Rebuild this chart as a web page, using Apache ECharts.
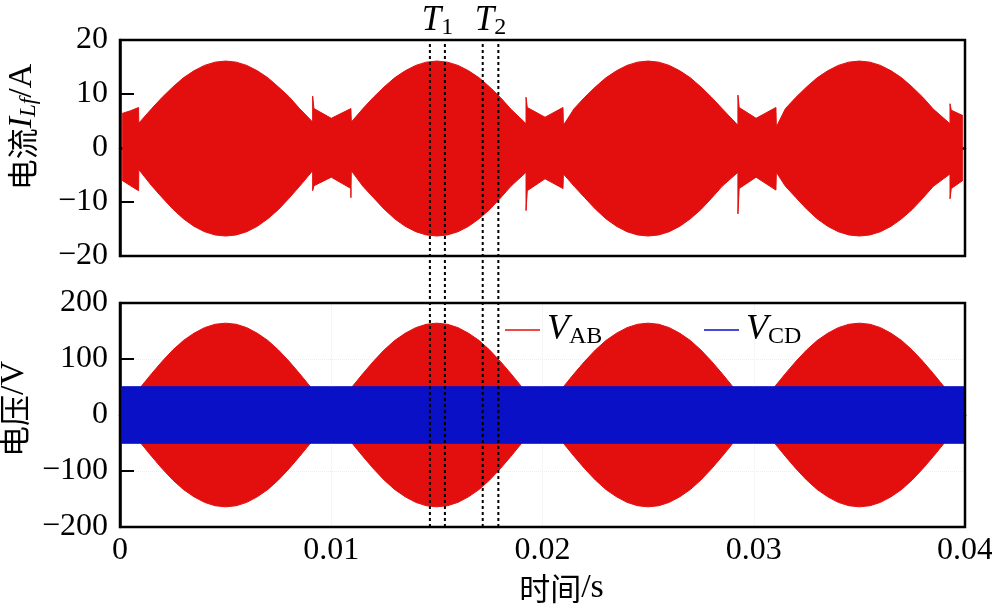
<!DOCTYPE html>
<html><head><meta charset="utf-8">
<script src="https://cdn.jsdelivr.net/npm/echarts@6/dist/echarts.min.js"></script>
<style>html,body{margin:0;padding:0;background:#fff}#c{width:992px;height:607px}</style>
</head><body><div id="c"></div>
<script>
// ---------- data ----------
// Top panel: envelope of the filter current I_Lf (A)
const timeI = [
  0.0001, 0.0005, 0.00088, 0.00088, 0.00089,
  0.0015, 0.002, 0.0025, 0.003, 0.0035, 0.004, 0.0045, 0.005, 0.0055, 0.006, 0.0065, 0.007, 0.0075, 0.008, 0.0085, 0.00912,
  0.00912, 0.00918, 0.0100, 0.01093, 0.01093, 0.01095,
  0.0115, 0.012, 0.0125, 0.013, 0.0135, 0.014, 0.0145, 0.015, 0.0155, 0.016, 0.0165, 0.017, 0.0175, 0.018, 0.0185, 0.01922,
  0.01922, 0.01928, 0.02012, 0.02097, 0.02097, 0.02099,
  0.0215, 0.022, 0.0225, 0.023, 0.0235, 0.024, 0.0245, 0.025, 0.0255, 0.026, 0.0265, 0.027, 0.0275, 0.028, 0.0285, 0.02925,
  0.02925, 0.02931, 0.03011, 0.03105, 0.03105, 0.03107,
  0.0315, 0.032, 0.0325, 0.033, 0.0335, 0.034, 0.0345, 0.035, 0.0355, 0.036, 0.0365, 0.037, 0.0375, 0.038, 0.0385, 0.03929,
  0.03929, 0.03935, 0.0399
];
const iUpper = [
  6.4, 6.9, 7.5, 7.7, 4.6,
  7.3, 9.4, 11.3, 13.0, 14.3, 15.3, 15.9, 16.1, 15.9, 15.3, 14.3, 13.0, 11.3, 9.5, 7.3, 4.8,
  9.6, 7.3, 5.5, 7.3, 7.6, 4.8,
  7.3, 9.4, 11.3, 13.0, 14.3, 15.3, 15.9, 16.1, 15.9, 15.3, 14.3, 13.0, 11.3, 9.4, 7.2, 4.5,
  9.4, 7.5, 5.7, 7.5, 7.7, 4.2,
  7.3, 9.4, 11.3, 13.0, 14.3, 15.3, 15.9, 16.1, 15.9, 15.3, 14.3, 13.0, 11.3, 9.4, 7.3, 4.2,
  9.8, 7.5, 5.5, 7.5, 7.6, 3.9,
  7.3, 9.4, 11.3, 13.0, 14.3, 15.3, 15.9, 16.1, 15.9, 15.3, 14.3, 13.0, 11.3, 9.4, 7.2, 4.5,
  8.2, 7.0, 6.0
];
const iLower = [
  -6.0, -7.0, -7.9, -8.2, -4.0,
  -7.0, -9.2, -11.3, -13.1, -14.5, -15.5, -16.1, -16.3, -16.1, -15.5, -14.5, -13.1, -11.4, -9.3, -7.1, -4.2,
  -7.9, -7.0, -5.4, -7.5, -9.2, -4.2,
  -7.1, -9.2, -11.3, -13.1, -14.5, -15.5, -16.1, -16.3, -16.1, -15.5, -14.5, -13.1, -11.4, -9.3, -7.1, -4.5,
  -11.6, -7.9, -5.7, -7.5, -7.8, -4.8,
  -7.1, -9.2, -11.3, -13.1, -14.5, -15.5, -16.1, -16.3, -16.1, -15.5, -14.5, -13.1, -11.4, -9.3, -7.1, -4.5,
  -12.2, -7.5, -5.4, -7.8, -8.0, -4.5,
  -7.1, -9.2, -11.3, -13.1, -14.5, -15.5, -16.1, -16.3, -16.1, -15.5, -14.5, -13.1, -11.4, -9.3, -7.1, -4.8,
  -9.4, -7.5, -6.0
];
// Bottom panel: envelope of V_AB (V)
const timeV = [
  0.0009, 0.001, 0.0015, 0.002, 0.0025, 0.003, 0.0035, 0.004, 0.0045, 0.005, 0.0055, 0.006, 0.0065, 0.007, 0.0075, 0.008, 0.0085, 0.009, 0.0091,
  0.0109, 0.011, 0.0115, 0.012, 0.0125, 0.013, 0.0135, 0.014, 0.0145, 0.015, 0.0155, 0.016, 0.0165, 0.017, 0.0175, 0.018, 0.0185, 0.019, 0.0191,
  0.0209, 0.021, 0.0215, 0.022, 0.0225, 0.023, 0.0235, 0.024, 0.0245, 0.025, 0.0255, 0.026, 0.0265, 0.027, 0.0275, 0.028, 0.0285, 0.029, 0.0291,
  0.0309, 0.031, 0.0315, 0.032, 0.0325, 0.033, 0.0335, 0.034, 0.0345, 0.035, 0.0355, 0.036, 0.0365, 0.037, 0.0375, 0.038, 0.0385, 0.039, 0.0391
];
const vabUpper = [
  46, 51, 74, 96, 116, 133, 146, 156, 162, 164, 162, 156, 146, 133, 116, 96, 74, 51, 46,
  46, 51, 74, 96, 116, 133, 146, 156, 162, 164, 162, 156, 146, 133, 116, 96, 74, 51, 46,
  46, 51, 74, 96, 116, 133, 146, 156, 162, 164, 162, 156, 146, 133, 116, 96, 74, 51, 46,
  46, 51, 74, 96, 116, 133, 146, 156, 162, 164, 162, 156, 146, 133, 116, 96, 74, 51, 46
];
const vabLower = [
  -46, -51, -74, -96, -116, -133, -146, -156, -162, -164, -162, -156, -146, -133, -116, -96, -74, -51, -46,
  -46, -51, -74, -96, -116, -133, -146, -156, -162, -164, -162, -156, -146, -133, -116, -96, -74, -51, -46,
  -46, -51, -74, -96, -116, -133, -146, -156, -162, -164, -162, -156, -146, -133, -116, -96, -74, -51, -46,
  -46, -51, -74, -96, -116, -133, -146, -156, -162, -164, -162, -156, -146, -133, -116, -96, -74, -51, -46
];
// Bottom panel: envelope of V_CD (V)
const timeCD = [0, 0.01, 0.02, 0.03, 0.04];
const vcdUpper = [50.5, 50.5, 50.5, 50.5, 50.5];
const vcdLower = [-50.5, -50.5, -50.5, -50.5, -50.5];
// axes
const xTicks = [0, 0.01, 0.02, 0.03, 0.04];
const iTicks = [-20, -10, 0, 10, 20];
const vTicks = [-200, -100, 0, 100, 200];
// T1 / T2 interval markers
const markTimes = [0.01467, 0.01538, 0.01717, 0.01791];
const markNames = ['1', '2'];

// ---------- styling ----------
const RED = '#e30e0e';
const BLUE = '#0a10c6';
const SERIF = 'Liberation Serif';
const CJK = 'Noto Sans CJK SC';

const pairs = (t, v) => t.map((x, i) => [x, v[i]]);
function band(name, idx, t, v, color, z) {
  return {
    type: 'line', name, xAxisIndex: idx, yAxisIndex: idx, data: pairs(t, v),
    symbol: 'none', silent: true, z,
    lineStyle: { color, width: 1 }, itemStyle: { color },
    areaStyle: { color, opacity: 1 }
  };
}
const nameRich = {
  c: { fontFamily: CJK, fontSize: 31, color: '#000' },
  i: { fontFamily: SERIF, fontStyle: 'italic', fontSize: 34, color: '#000' },
  s: { fontFamily: SERIF, fontStyle: 'italic', fontSize: 23, color: '#000', padding: [13, 0, 0, 0] },
  n: { fontFamily: SERIF, fontSize: 34, color: '#000' }
};
const legRich = {
  v: { fontFamily: SERIF, fontStyle: 'italic', fontSize: 36, color: '#000' },
  s: { fontFamily: SERIF, fontSize: 24, color: '#000', padding: [14, 0, 0, 0] }
};
const tickLbl = { fontFamily: SERIF, fontSize: 32, color: '#000' };
const minus = v => String(v).replace('-', '\u2212');

function xAx(gi, labels) {
  return {
    type: 'value', gridIndex: gi, min: xTicks[0], max: xTicks[xTicks.length - 1],
    interval: xTicks[1] - xTicks[0],
    axisLine: { lineStyle: { color: '#000', width: 2.5 } },
    axisTick: { inside: true, length: 14, lineStyle: { color: '#000', width: 2 } },
    axisLabel: Object.assign({ show: labels, margin: 8 }, tickLbl),
    splitLine: { show: labels, lineStyle: { color: '#ededed', type: 'dotted', width: 1 } }
  };
}
function yAx(gi, ticks, name, gap, grid, shift) {
  return {
    type: 'value', gridIndex: gi, min: ticks[0], max: ticks[ticks.length - 1],
    interval: ticks[1] - ticks[0],
    axisLine: { lineStyle: { color: '#000', width: 2.5 } },
    axisTick: { inside: true, length: 14, lineStyle: { color: '#000', width: 2 } },
    axisLabel: Object.assign({ margin: 12, formatter: minus }, tickLbl),
    splitLine: { show: grid, lineStyle: { color: '#ededed', type: 'dotted', width: 1 } },
    name, nameLocation: 'middle', nameGap: gap,
    nameTextStyle: { rich: nameRich, padding: [0, 0, 0, shift] }
  };
}

const series = [
  band('I_Lf', 0, timeI, iUpper, RED, 2),
  band('I_Lf', 0, timeI, iLower, RED, 2),
  band('V_AB', 1, timeV, vabUpper, RED, 2),
  band('V_AB', 1, timeV, vabLower, RED, 2),
  band('V_CD', 1, timeCD, vcdUpper, BLUE, 3),
  band('V_CD', 1, timeCD, vcdLower, BLUE, 3)
];
markTimes.forEach(t => series.push({
  type: 'line', xAxisIndex: 2, yAxisIndex: 2, data: [[t, 0], [t, 1]], symbol: 'none', silent: true, z: 6,
  lineStyle: { color: '#000', width: 2, type: [3, 3] }
}));
series.push({
  type: 'scatter', xAxisIndex: 2, yAxisIndex: 2, symbolSize: 0, silent: true, z: 6,
  itemStyle: { opacity: 1 },
  data: markNames.map((n, k) => ({ value: [(markTimes[2 * k] + markTimes[2 * k + 1]) / 2, 1], n })),
  label: {
    show: true, position: 'top', distance: 0, color: '#000', opacity: 1,
    formatter: p => '{t|T}{s|' + p.data.n + '}',
    rich: {
      t: { fontFamily: SERIF, fontStyle: 'italic', fontSize: 35, color: '#000' },
      s: { fontFamily: SERIF, fontSize: 24, color: '#000', padding: [14, 0, 0, 0] }
    }
  }
});

function leg(name, sub, left, color) {
  return {
    data: [{ name, icon: 'rect', itemStyle: { color } }],
    left, top: 307, itemWidth: 35, itemHeight: 1.5, selectedMode: false,
    formatter: () => '{v|V}{s|' + sub + '}',
    textStyle: { rich: legRich, padding: [0, 0, 0, 2] }
  };
}

const option = {
  animation: false,
  backgroundColor: '#fff',
  grid: [
    { left: 120, top: 40, width: 845, height: 216, show: true, borderColor: '#000', borderWidth: 2.5, z: 10, outerBoundsMode: 'none', containLabel: false },
    { left: 120, top: 303, width: 845, height: 224, show: true, borderColor: '#000', borderWidth: 2.5, z: 10, outerBoundsMode: 'none', containLabel: false },
    { left: 120, top: 40, width: 845, height: 487, show: false, outerBoundsMode: 'none', containLabel: false }
  ],
  legend: [leg('V_AB', 'AB', 500, RED), leg('V_CD', 'CD', 699, BLUE)],
  xAxis: [
    xAx(0, false),
    Object.assign(xAx(1, true), {
      name: '{c|时间}{n|/s}', nameLocation: 'middle', nameGap: 44,
      nameTextStyle: { rich: nameRich, padding: [0, 0, 0, 38] }
    }),
    { type: 'value', gridIndex: 2, show: false, min: xTicks[0], max: xTicks[xTicks.length - 1] }
  ],
  yAxis: [
    yAx(0, iTicks, '{c|电流}{i|I}{s|Lf}{n|/A}', 80, false, 42),
    yAx(1, vTicks, '{c|电压}{n|/V}', 84, true, 12),
    { type: 'value', gridIndex: 2, show: false, min: 0, max: 1 }
  ],
  series
};
const chart = echarts.init(document.getElementById('c'), null, { renderer: 'canvas' });
chart.setOption(option);
</script>
</body></html>
